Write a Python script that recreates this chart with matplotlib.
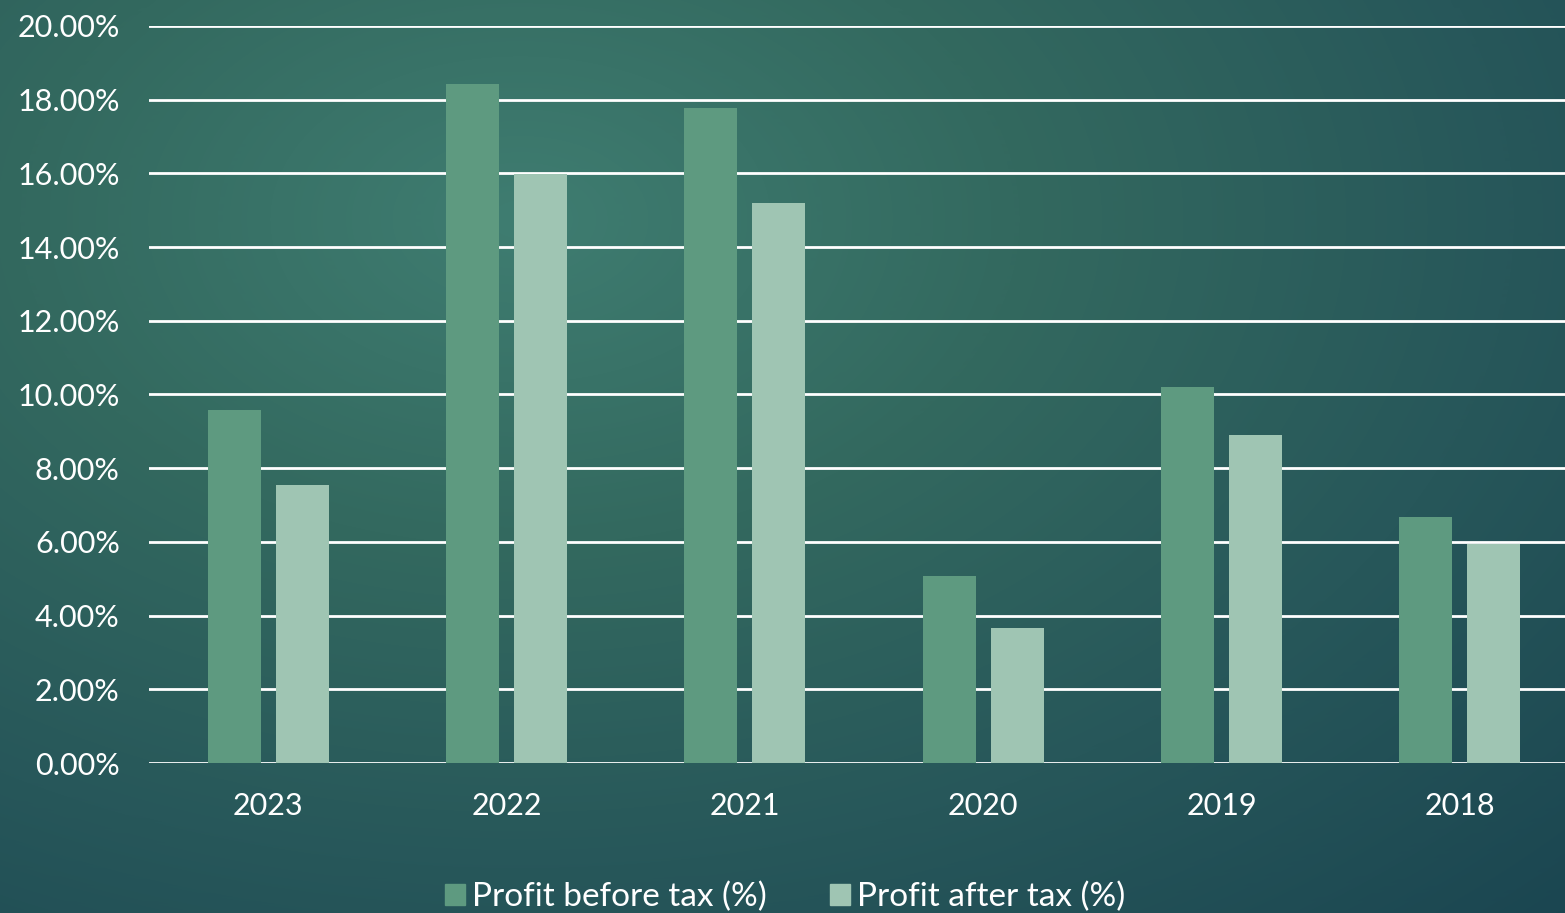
import numpy as np
import matplotlib
matplotlib.use("Agg")
import matplotlib.pyplot as plt
from matplotlib.colors import LinearSegmentedColormap
from matplotlib.patches import Patch

years = ["2023", "2022", "2021", "2020", "2019", "2018"]
before_tax = [9.58, 18.43, 17.77, 5.07, 10.20, 6.68]
after_tax = [7.54, 15.98, 15.20, 3.66, 8.90, 5.94]
series_names = ["Profit before tax (%)", "Profit after tax (%)"]
yticks = [0, 2, 4, 6, 8, 10, 12, 14, 16, 18, 20]

plt.rcParams['font.family'] = ['Lato', 'DejaVu Sans']

W, H = 1565, 913
fig = plt.figure(figsize=(W / 100, H / 100), dpi=100)

# background gradient
bg = fig.add_axes([0, 0, 1, 1])
yy, xx = np.mgrid[0:H, 0:W]
cx, cy = 520, 220
d = np.sqrt(((xx - cx) / W) ** 2 + ((yy - cy) / H) ** 2 * 0.8)
d = d / d.max()
cmap = LinearSegmentedColormap.from_list("bg", ["#3f7d71", "#33695f", "#27575a", "#1b4651"])
bg.imshow(d, cmap=cmap, aspect='auto', extent=[0, 1, 0, 1], origin='upper')
bg.axis('off')

left = 149 / W
right = 1579 / W
bottom = 1 - 763 / H
top = 1 - 26 / H
ax = fig.add_axes([left, bottom, right - left, top - bottom])
ax.patch.set_alpha(0)

x = np.arange(len(years))
w = 0.222
off = 0.143
c1, c2 = "#5e9a80", "#9fc5b3"
ax.bar(x - off, before_tax, w, color=c1, zorder=3)
ax.bar(x + off, after_tax, w, color=c2, zorder=3)

ax.set_xlim(-0.5, len(years) - 0.5)
ax.set_ylim(0, 20)
ax.set_yticks(yticks)
ax.set_yticklabels([f"{v:.2f}%" for v in yticks])
ax.set_xticks(x)
ax.set_xticklabels(years)
ax.grid(axis='y', color='white', linewidth=2, zorder=0)
ax.set_axisbelow(True)
for s in ax.spines.values():
    s.set_visible(False)
ax.tick_params(axis='both', length=0, colors='white', labelsize=22)
ax.tick_params(axis='y', pad=21)
ax.tick_params(axis='x', pad=21)

handles = [Patch(color=c1), Patch(color=c2)]
leg = fig.legend(handles, series_names, loc='center', bbox_to_anchor=(785 / W, 1 - 897 / H),
                 ncol=2, frameon=False, fontsize=24, handlelength=0.6, handleheight=0.6,
                 handletextpad=0.2, columnspacing=1.9, labelcolor='white')

fig.savefig("out.png", dpi=100)
